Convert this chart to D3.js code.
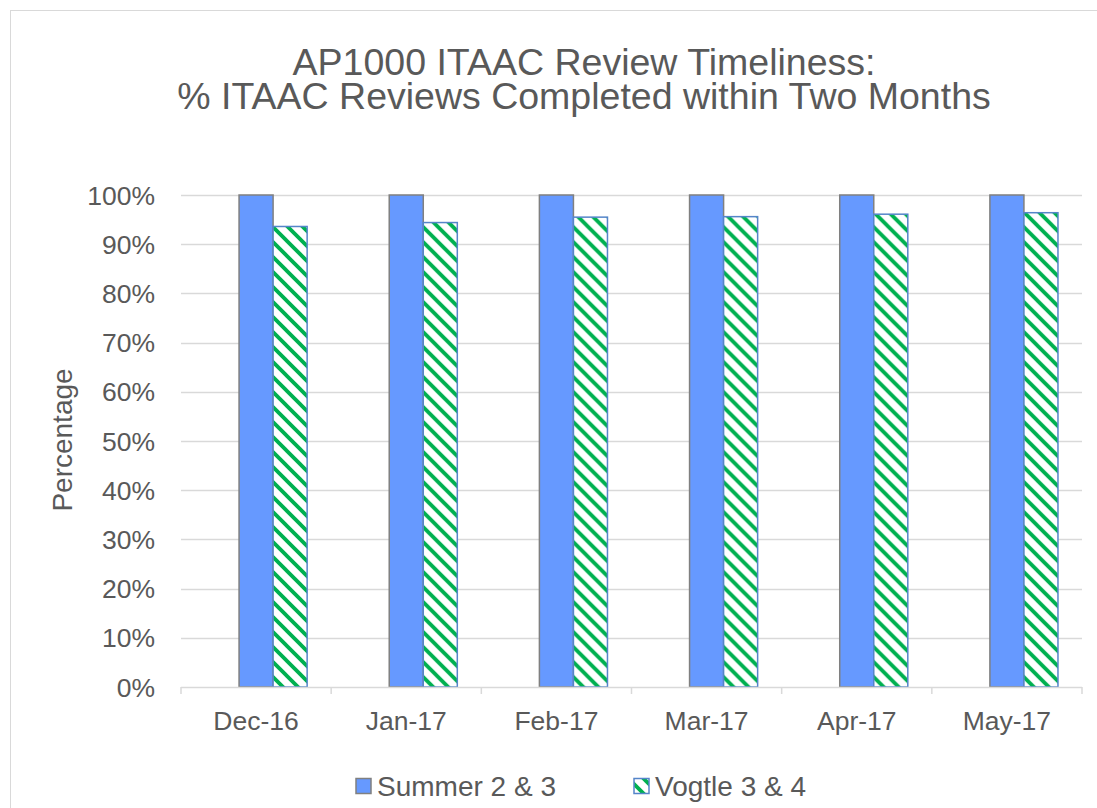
<!DOCTYPE html>
<html>
<head>
<meta charset="utf-8">
<script src="https://cdn.jsdelivr.net/npm/d3@7"></script>
<style>
  body { margin: 0; background: #fff; }
  text { font-family: "Liberation Sans", Arial, sans-serif; fill: #595959; }
</style>
</head>
<body>
<svg id="chart" width="1097" height="808"></svg>
<script>
const months = ["Dec-16", "Jan-17", "Feb-17", "Mar-17", "Apr-17", "May-17"];
const summer = [100, 100, 100, 100, 100, 100];
const vogtle = [93.6, 94.4, 95.5, 95.6, 96.1, 96.4];
const yTicks = [0, 10, 20, 30, 40, 50, 60, 70, 80, 90, 100];
// excel leaves an empty first slot in each cluster
const slots = ["blank", "summer", "vogtle"];

const svg = d3.select("#chart");
const margin = {left: 181, right: 1082, top: 195, bottom: 687};

// chart area border, runs off the right and bottom
svg.append("rect")
    .attr("x", 10.5).attr("y", 10.5)
    .attr("width", 1100).attr("height", 820)
    .attr("fill", "#fff")
    .attr("stroke", "#d9d9d9")
    .attr("stroke-width", 1);

const defs = svg.append("defs");
const pat = defs.append("pattern")
    .attr("id", "diag")
    .attr("patternUnits", "userSpaceOnUse")
    .attr("width", 15).attr("height", 15);
pat.append("rect").attr("width", 15).attr("height", 15).attr("fill", "#fff");
pat.append("path")
    .attr("d", "M-3,-3L18,18M-3,12L3,18M12,-3L18,3")
    .attr("stroke", "#00b050")
    .attr("stroke-width", 3.8);

const x0 = d3.scaleBand().domain(months).range([margin.left, margin.right]);
const x1 = d3.scaleBand().domain(slots).range([0, x0.bandwidth()])
    .paddingInner(0).paddingOuter(0.706);
const y = d3.scaleLinear().domain([0, 100]).range([margin.bottom, margin.top]);

// gridlines
svg.append("g")
  .selectAll("line")
  .data(yTicks.filter(d => d > 0))
  .join("line")
    .attr("x1", margin.left).attr("x2", margin.right)
    .attr("y1", d => Math.round(y(d)) + 0.5).attr("y2", d => Math.round(y(d)) + 0.5)
    .attr("stroke", "#d9d9d9").attr("stroke-width", 1.5);

// y labels
svg.append("g")
  .selectAll("text")
  .data(yTicks)
  .join("text")
    .attr("x", 155)
    .attr("y", d => y(d) + 9.5)
    .attr("text-anchor", "end")
    .attr("font-size", 26.5)
    .text(d => d + "%");

// bars
const groups = svg.append("g")
  .selectAll("g")
  .data(months)
  .join("g")
    .attr("transform", d => `translate(${x0(d)},0)`);

groups.append("rect")
    .attr("x", x1("summer"))
    .attr("y", (d, i) => y(summer[i]))
    .attr("width", x1.bandwidth())
    .attr("height", (d, i) => y(0) - y(summer[i]))
    .attr("fill", "#6699ff")
    .attr("stroke", "#808080")
    .attr("stroke-width", 1.5);

groups.append("rect")
    .attr("x", x1("vogtle"))
    .attr("y", (d, i) => y(vogtle[i]))
    .attr("width", x1.bandwidth())
    .attr("height", (d, i) => y(0) - y(vogtle[i]))
    .attr("fill", "url(#diag)")
    .attr("stroke", "#5585c9")
    .attr("stroke-width", 1.5);

// x axis
const xAxis = svg.append("g");
xAxis.append("line")
    .attr("x1", margin.left).attr("x2", margin.right)
    .attr("y1", margin.bottom + 0.5).attr("y2", margin.bottom + 0.5)
    .attr("stroke", "#d9d9d9").attr("stroke-width", 1.5);
xAxis.selectAll("line.tick")
  .data(months.concat(["end"]))
  .join("line")
    .attr("class", "tick")
    .attr("x1", (d, i) => margin.left + i * x0.step())
    .attr("x2", (d, i) => margin.left + i * x0.step())
    .attr("y1", margin.bottom).attr("y2", margin.bottom + 7)
    .attr("stroke", "#d9d9d9").attr("stroke-width", 1.5);
xAxis.selectAll("text")
  .data(months)
  .join("text")
    .attr("x", d => x0(d) + x0.bandwidth() / 2)
    .attr("y", 730)
    .attr("text-anchor", "middle")
    .attr("font-size", 26.5)
    .text(d => d);

// y axis title
svg.append("text")
    .attr("transform", "translate(72,440) rotate(-90)")
    .attr("text-anchor", "middle")
    .attr("font-size", 28)
    .text("Percentage");

// title
const title = svg.append("text")
    .attr("text-anchor", "middle")
    .attr("font-size", 37.5);
title.append("tspan").attr("x", 584).attr("y", 75).text("AP1000 ITAAC Review Timeliness:");
title.append("tspan").attr("x", 584).attr("y", 109).text("% ITAAC Reviews Completed within Two Months");

// legend
const legend = [
  {label: "Summer 2 & 3", x: 356, fill: "#6699ff", stroke: "#808080"},
  {label: "Vogtle 3 & 4", x: 634, fill: "url(#diag)", stroke: "#5585c9"}
];
const lg = svg.append("g").selectAll("g").data(legend).join("g");
lg.append("rect")
    .attr("x", d => d.x).attr("y", 778.5)
    .attr("width", 15).attr("height", 15)
    .attr("fill", d => d.fill)
    .attr("stroke", d => d.stroke)
    .attr("stroke-width", 1.5);
lg.append("text")
    .attr("x", d => d.x + 21).attr("y", 796)
    .attr("font-size", 28)
    .text(d => d.label);
</script>
</body>
</html>
